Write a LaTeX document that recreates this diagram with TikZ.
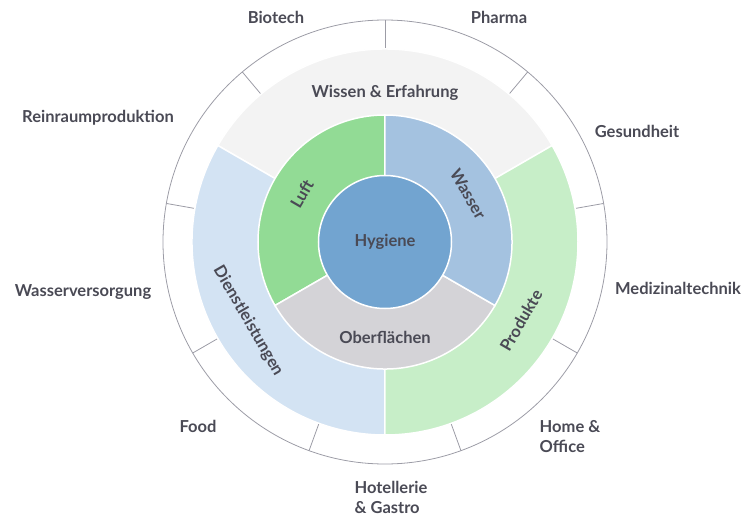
\documentclass[tikz,border=0pt]{standalone}
\usepackage{fontspec}
\setmainfont{Lato}
\usepackage{xcolor}
\definecolor{txtgray}{HTML}{4A4A55}
\definecolor{ringgray}{HTML}{9C9CA6}
\definecolor{hygblue}{HTML}{72A4D0}
\definecolor{wasblue}{HTML}{A4C2E0}
\definecolor{luftgreen}{HTML}{92DB95}
\definecolor{obgray}{HTML}{D4D3D7}
\definecolor{wissgray}{HTML}{F3F3F3}
\definecolor{dienblue}{HTML}{D3E3F3}
\definecolor{prodgreen}{HTML}{C7EEC8}

\begin{document}
\begin{tikzpicture}[x=1pt,y=1pt,
  lbl/.style={font=\bfseries\fontsize{16.5}{20}\selectfont, text=txtgray, inner sep=1pt},
  seg/.style={draw=white, line width=1.5pt}]
\useasboundingbox (-385,-275) rectangle (362,242);

		% Outer circle with the fields
		\draw [ringgray, line width=0.8pt] (0,0) circle (222pt);
		\foreach \a in {10,50,...,330}
			\draw [ringgray, line width=0.8pt] (\a:190pt) -- (\a:222pt);

		% Second ring
		\filldraw [seg, fill=wissgray] (0,0) -- (30:193pt) arc (30:150:193pt) -- cycle;
		\filldraw [seg, fill=dienblue] (0,0) -- (150:193pt) arc (150:270:193pt) -- cycle;
		\filldraw [seg, fill=prodgreen] (0,0) -- (270:193pt) arc (270:390:193pt) -- cycle;

		% First ring
		\filldraw [seg, fill=luftgreen] (0,0) -- (90:127pt) arc (90:210:127pt) -- cycle;
		\filldraw [seg, fill=obgray] (0,0) -- (210:127pt) arc (210:330:127pt) -- cycle;
		\filldraw [seg, fill=wasblue] (0,0) -- (330:127pt) arc (330:450:127pt) -- cycle;

		% Center
		\node (hyg) at (0,0) [circle, fill=hygblue, draw=white, line width=1.5pt, minimum size=133pt, lbl] {Hygiene};

		\node (luft) at (150:96pt) [lbl, rotate=60] {Luft};
		\node (wasser) at (30:96pt) [lbl, rotate=-60] {Wasser};
		\node (ober) at (270:95pt) [lbl] {Oberflächen};

		\node (wissen) at (90:149pt) [lbl] {Wissen \& Erfahrung};
		\node (dienst) at (210:158pt) [lbl, rotate=-60] {Dienstleistungen};
		\node (prod) at (-30:157pt) [lbl, rotate=60] {Produkte};

		% Fields
		\node (bio) at (-109,225) [lbl] {Biotech};
		\node (pharma) at (114,225) [lbl] {Pharma};
		\node (gesund) at (252,111) [lbl] {Gesundheit};
		\node (medi) at (293,-46) [lbl] {Medizinaltechnik};
		\node (home) at (185,-195) [lbl, align=left] {Home \&\\Office};
		\node (hotel) at (6,-255) [lbl, align=left] {Hotellerie\\\& Gastro};
		\node (food) at (-187,-184) [lbl] {Food};
		\node (wasserv) at (-302,-50) [lbl] {Wasserversorgung};
		\node (rein) at (-287,124) [lbl] {Reinraumproduktion};
\end{tikzpicture}
\end{document}
